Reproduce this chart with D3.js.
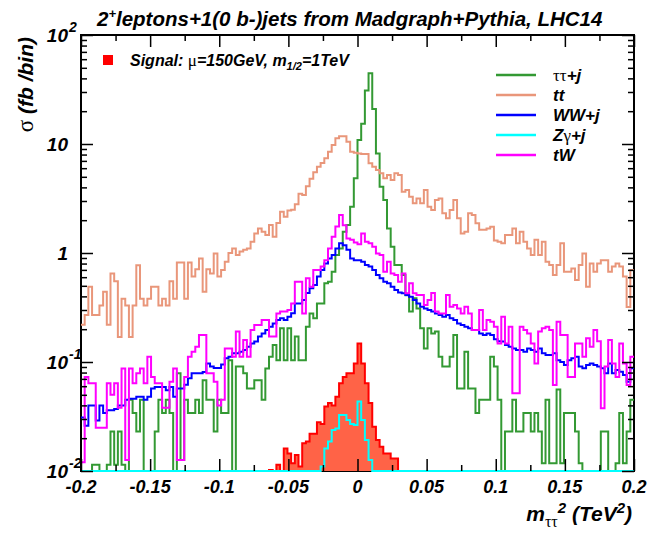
<!DOCTYPE html>
<html>
<head>
<meta charset="utf-8">
<script src="https://cdn.jsdelivr.net/npm/d3@7"></script>
<style>
  body { margin: 0; background: #fff; }
  text { font-family: "Liberation Sans", Arial, Helvetica, sans-serif; font-weight: bold; font-style: italic; fill: #000; }
  .greek { font-family: "Liberation Serif", "DejaVu Serif", serif; font-weight: normal; font-style: normal; }
</style>
</head>
<body>
<script>
var width = 667, height = 533;
var plot = { left: 81, right: 634, top: 35, bottom: 471 };

// binning of the histograms
var nBins = 150, xMin = -0.2, xMax = 0.2, yMin = 0.01, yMax = 100;

// tick labels
var xMajorTicks = [-0.2, -0.15, -0.1, -0.05, 0, 0.05, 0.1, 0.15, 0.2];
var xMinorTicks = [-0.175, -0.125, -0.075, -0.025, 0.025, 0.075, 0.125, 0.175];
var xTickLabels = ["-0.2", "-0.15", "-0.1", "-0.05", "0", "0.05", "0.1", "0.15", "0.2"];
var yMajorTicks = [0.01, 0.1, 1, 10, 100];
var yTickBase = ["10", "10", "1", "10", "10"];
var yTickExp = ["-2", "-1", "", "", "2"];

// cross section per bin (fb), 150 bins from -0.2 to 0.2 TeV^2
var tautau = [
  0, 0, 0, 0.0114, 0.0114, 0, 0, 0.0114, 0.023, 0.0114,
  0.023, 0.0114, 0, 0.045, 0.034, 0.023, 0.045, 0, 0, 0,
  0.023, 0.045, 0.034, 0.045, 0.034, 0, 0.079, 0.0126, 0.045, 0.034,
  0.034, 0.045, 0.034, 0.068, 0.045, 0.045, 0.023, 0.045, 0.034, 0.034,
  0.104, 0, 0.091, 0.091, 0.079, 0.057, 0.057, 0.068, 0.068, 0.045,
  0.087, 0.112, 0.143, 0.104, 0.204, 0.104, 0.204, 0.104, 0.171, 0.104,
  0.104, 0.211, 0.279, 0.252, 0.345, 0.345, 0.527, 0.546, 0.674, 0.96,
  1.10, 1.57, 1.81, 2.66, 4.84, 10.9, 15.3, 31, 44.5, 21,
  8.2, 4.06, 3.06, 1.68, 1.14, 0.776, 0.776, 0.628, 0.41, 0.29,
  0.384, 0.31, 0.204, 0.133, 0.204, 0.183, 0.19, 0.112, 0.091, 0.091,
  0.112, 0.177, 0.057, 0.057, 0.124, 0.057, 0.057, 0.034, 0.045, 0.045,
  0.045, 0.112, 0.091, 0.045, 0, 0.023, 0.023, 0.045, 0.023, 0.023,
  0.034, 0.034, 0.023, 0.034, 0.023, 0.0118, 0.045, 0.0118, 0.0118, 0.056,
  0.0118, 0.034, 0.034, 0.034, 0.023, 0.0118, 0, 0, 0, 0,
  0, 0.023, 0.023, 0, 0, 0.0118, 0.034, 0.0118, 0.023, 0.045
];
var ttbar = [
  0.22, 0.27, 0.49, 0.27, 0.27, 0.33, 0.44, 0.22, 0.65, 0.55,
  0.17, 0.38, 0.33, 0.17, 0.33, 0.77, 0.38, 0.33, 0.38, 0.49,
  0.49, 0.33, 0.38, 0.33, 0.55, 0.38, 0.82, 0.82, 0.38, 0.82,
  0.61, 0.71, 0.89, 0.44, 0.71, 0.65, 0.99, 0.61, 0.70, 0.83,
  1.0, 1.10, 0.96, 1.03, 1.07, 1.10, 1.27, 1.51, 1.68, 1.57,
  1.46, 1.81, 1.41, 1.88, 2.39, 2.15, 2.46, 2.5, 2.8, 3.5,
  3.4, 4.1, 4.8, 5.5, 6.2, 6.7, 7.4, 8.5, 9.8, 11.3,
  11.8, 11.8, 10.5, 8.5, 8.3, 8.2, 8.1, 8.1, 6.65, 6.2,
  5.77, 5.38, 4.84, 5.2, 4.67, 5.38, 5.2, 3.65, 3.78, 3.29,
  2.86, 3.17, 2.86, 3.78, 2.66, 2.48, 3.06, 3.17, 2.31, 2.08,
  2.48, 3.06, 2.08, 1.51, 1.57, 2.31, 2.23, 1.87, 1.63, 1.63,
  1.68, 1.74, 1.3, 1.27, 1.23, 1.46, 1.46, 1.68, 1.23, 1.57,
  1.27, 1.10, 0.96, 1.32, 0.96, 1.27, 0.83, 0.776, 0.628, 0.776,
  1.23, 0.674, 0.674, 0.72, 0.565, 0.776, 0.99, 0.49, 0.80, 0.674,
  0.80, 0.86, 0.86, 0.674, 0.75, 0.80, 0.75, 0.61, 0.32, 0.70
];
var wwj = [
  0.031, 0.026, 0.040, 0.040, 0.029, 0.040, 0.034, 0.036, 0.036, 0.037,
  0.040, 0.040, 0.045, 0.046, 0.046, 0.048, 0.048, 0.045, 0.048, 0.057,
  0.059, 0.059, 0.059, 0.055, 0.059, 0.048, 0.057, 0.057, 0.062, 0.071,
  0.079, 0.079, 0.079, 0.081, 0.097, 0.091, 0.088, 0.088, 0.095, 0.108,
  0.112, 0.12, 0.12, 0.124, 0.129, 0.138, 0.148, 0.154, 0.171, 0.183,
  0.197, 0.211, 0.226, 0.243, 0.252, 0.243, 0.26, 0.28, 0.345, 0.345,
  0.37, 0.43, 0.474, 0.51, 0.61, 0.70, 0.80, 0.89, 0.96, 1.10,
  1.23, 1.18, 1.07, 0.89, 0.86, 0.86, 0.83, 0.776, 0.75, 0.70,
  0.628, 0.586, 0.546, 0.527, 0.49, 0.458, 0.433, 0.427, 0.412, 0.397,
  0.37, 0.345, 0.322, 0.31, 0.30, 0.29, 0.279, 0.27, 0.26, 0.27,
  0.252, 0.243, 0.226, 0.218, 0.211, 0.204, 0.197, 0.197, 0.183, 0.177,
  0.183, 0.177, 0.162, 0.155, 0.154, 0.143, 0.138, 0.133, 0.129, 0.129,
  0.124, 0.133, 0.129, 0.124, 0.133, 0.12, 0.116, 0.116, 0.12, 0.104,
  0.10, 0.094, 0.104, 0.108, 0.112, 0.091, 0.0875, 0.094, 0.097, 0.094,
  0.091, 0.0875, 0.079, 0.097, 0.079, 0.0845, 0.0815, 0.076, 0.066, 0.0875
];
var zgj = [
  0, 0, 0, 0, 0, 0, 0, 0, 0, 0,
  0, 0, 0, 0, 0, 0, 0, 0, 0, 0,
  0, 0, 0, 0, 0, 0, 0, 0, 0, 0,
  0, 0, 0, 0, 0, 0, 0, 0, 0, 0,
  0, 0, 0, 0, 0, 0, 0, 0, 0, 0,
  0, 0, 0, 0, 0, 0, 0, 0, 0, 0,
  0, 0, 0, 0, 0, 0.011, 0.0161, 0.0186, 0.0238, 0.0246,
  0.0327, 0.0327, 0.0294, 0.027, 0.0264, 0.0433, 0.0294, 0.0192, 0.0126, 0,
  0, 0, 0, 0, 0, 0, 0, 0, 0, 0,
  0, 0, 0, 0, 0, 0, 0, 0, 0, 0,
  0, 0, 0, 0, 0, 0, 0, 0, 0, 0,
  0, 0, 0, 0, 0, 0, 0, 0, 0, 0,
  0, 0, 0, 0, 0, 0, 0, 0, 0, 0,
  0, 0, 0, 0, 0, 0, 0, 0, 0, 0,
  0, 0, 0, 0, 0, 0, 0, 0, 0, 0
];
var tw = [
  0.012, 0.073, 0.064, 0.064, 0.025, 0.025, 0.025, 0.064, 0.050, 0.064,
  0.038, 0.087, 0.0126, 0.087, 0.064, 0.079, 0.087, 0.064, 0.112, 0.073,
  0.064, 0.064, 0.038, 0.038, 0.066, 0.087, 0.0126, 0.0126, 0.073, 0.112,
  0.124, 0.138, 0.177, 0.177, 0.079, 0.079, 0.066, 0.04, 0.045, 0.133,
  0.133, 0.112, 0.19, 0.112, 0.159, 0.112, 0.197, 0.218, 0.218, 0.243,
  0.243, 0.171, 0.171, 0.279, 0.29, 0.29, 0.30, 0.345, 0.546, 0.546,
  0.279, 0.586, 0.49, 0.70, 0.70, 0.75, 0.86, 1.1, 1.41, 1.75,
  2.23, 1.8, 1.36, 1.32, 1.25, 1.2, 1.51, 1.27, 1.23, 1.14,
  0.99, 0.96, 0.674, 0.83, 0.65, 0.628, 0.546, 0.65, 0.427, 0.527,
  0.427, 0.412, 0.412, 0.333, 0.37, 0.43, 0.29, 0.279, 0.279, 0.412,
  0.322, 0.333, 0.31, 0.279, 0.322, 0.279, 0.197, 0.197, 0.30, 0.197,
  0.243, 0.234, 0.211, 0.148, 0.26, 0.148, 0.211, 0.0516, 0.0516, 0.211,
  0.197, 0.183, 0.148, 0.097, 0.19, 0.204, 0.211, 0.197, 0.0615, 0.234,
  0.177, 0.177, 0.073, 0.073, 0.148, 0.148, 0.112, 0.165, 0.138, 0.197,
  0.155, 0.0376, 0.091, 0.159, 0.097, 0.073, 0.148, 0.097, 0.0615, 0.112
];
var signal = [
  0, 0, 0, 0, 0, 0, 0, 0, 0, 0,
  0, 0, 0, 0, 0, 0, 0, 0, 0, 0,
  0, 0, 0, 0, 0, 0, 0, 0, 0, 0,
  0, 0, 0, 0, 0, 0, 0, 0, 0, 0,
  0, 0, 0, 0, 0, 0, 0, 0, 0, 0,
  0, 0.0102, 0, 0.0114, 0, 0.0161, 0.0145, 0.0118, 0.014, 0.011,
  0.018, 0.0186, 0.022, 0.022, 0.028, 0.027, 0.039, 0.042, 0.040, 0.048,
  0.064, 0.073, 0.079, 0.079, 0.097, 0.148, 0.097, 0.064, 0.042, 0.0255,
  0.0192, 0.0167, 0.0145, 0.0145, 0.013, 0.013, 0, 0, 0, 0,
  0, 0, 0, 0, 0, 0, 0, 0, 0, 0,
  0, 0, 0, 0, 0, 0, 0, 0, 0, 0,
  0, 0, 0, 0, 0, 0, 0, 0, 0, 0,
  0, 0, 0, 0, 0, 0, 0, 0, 0, 0,
  0, 0, 0, 0, 0, 0, 0, 0, 0, 0,
  0, 0, 0, 0, 0, 0, 0, 0, 0, 0
];

var backgrounds = [
  { values: tautau, color: "#339933", label: [["ττ", true], ["+j", false]] },
  { values: ttbar, color: "#e9967a", label: [["tt", false]] },
  { values: wwj, color: "#0000ff", label: [["WW+j", false]] },
  { values: zgj, color: "#00ffff", label: [["Z", false], ["γ", true], ["+j", false]] },
  { values: tw, color: "#ff00ff", label: [["tW", false]] }
];

var svg = d3.select("body")
    .append("svg")
    .attr("width", width)
    .attr("height", height);

var x = d3.scaleLinear().domain([xMin, xMax]).range([plot.left, plot.right]);
var y = d3.scaleLog().domain([yMin, yMax]).range([plot.bottom, plot.top]);

var edges = d3.range(nBins + 1).map(function (i) { return xMin + (xMax - xMin) * i / nBins; });

// step points of a histogram, values under the axis minimum sit on the bottom
function binPoints(values, offset) {
    var pts = [];
    values.forEach(function (v, i) {
        var vv = Math.max(v, yMin);
        pts.push([edges[i + offset], vv], [edges[i + offset + 1], vv]);
    });
    return pts;
}

var line = d3.line()
    .x(function (d) { return x(d[0]); })
    .y(function (d) { return y(d[1]); });

// frame
svg.append("rect")
    .attr("x", plot.left).attr("y", plot.top)
    .attr("width", plot.right - plot.left).attr("height", plot.bottom - plot.top)
    .attr("fill", "none").attr("stroke", "#000").attr("stroke-width", 2);

// signal, filled
var nonZero = signal.map(function (v, i) { return v > 0 ? i : -1; }).filter(function (i) { return i >= 0; });
var s0 = nonZero[0], s1 = nonZero[nonZero.length - 1];
var sigPts = [[edges[s0], yMin]].concat(binPoints(signal.slice(s0, s1 + 1), s0), [[edges[s1 + 1], yMin]]);

svg.append("path")
    .datum(sigPts)
    .attr("d", d3.area()
        .x(function (d) { return x(d[0]); })
        .y0(y(yMin))
        .y1(function (d) { return y(d[1]); }))
    .attr("fill", "#ff6347");

svg.append("path")
    .datum(sigPts)
    .attr("d", line)
    .attr("fill", "none")
    .attr("stroke", "#ff0000")
    .attr("stroke-width", 2);

// backgrounds
backgrounds.forEach(function (b) {
    svg.append("path")
        .datum(binPoints(b.values, 0))
        .attr("d", line)
        .attr("fill", "none")
        .attr("stroke", b.color)
        .attr("stroke-width", 2);
});

// ticks on all four sides, pointing inwards
var yMinorTicks = [];
yMajorTicks.slice(0, -1).forEach(function (t) {
    for (var k = 2; k <= 9; k++) yMinorTicks.push(t * k);
});

function tickAxis(axis, values, size, tx, ty) {
    svg.append("g")
        .attr("transform", "translate(" + tx + "," + ty + ")")
        .call(axis.tickValues(values).tickSize(size).tickFormat(""))
        .call(function (g) {
            g.select(".domain").remove();
            g.selectAll(".tick line").attr("stroke-width", 1.5);
        });
}
tickAxis(d3.axisBottom(x), xMajorTicks, -12, 0, plot.bottom);
tickAxis(d3.axisBottom(x), xMinorTicks, -6, 0, plot.bottom);
tickAxis(d3.axisTop(x), xMajorTicks, -12, 0, plot.top);
tickAxis(d3.axisTop(x), xMinorTicks, -6, 0, plot.top);
tickAxis(d3.axisLeft(y), yMajorTicks, -12, plot.left, 0);
tickAxis(d3.axisLeft(y), yMinorTicks, -6, plot.left, 0);
tickAxis(d3.axisRight(y), yMajorTicks, -12, plot.right, 0);
tickAxis(d3.axisRight(y), yMinorTicks, -6, plot.right, 0);

// x tick labels
svg.append("g").selectAll("text")
    .data(xMajorTicks)
    .enter()
    .append("text")
    .attr("x", function (d) { return x(d); })
    .attr("y", 493)
    .attr("text-anchor", "middle")
    .style("font-size", "18px")
    .text(function (d, i) { return xTickLabels[i]; });

// y tick labels, 10 with exponent
yMajorTicks.forEach(function (t, i) {
    var yy = y(t);
    svg.append("text")
        .attr("x", 68).attr("y", yy + 7)
        .attr("text-anchor", "end")
        .style("font-size", "19px")
        .text(yTickBase[i]);
    if (yTickExp[i]) {
        svg.append("text")
            .attr("x", 69).attr("y", yy - 3)
            .style("font-size", "14px")
            .text(yTickExp[i]);
    }
});

// title
var title = svg.append("text")
    .attr("x", 97).attr("y", 26)
    .style("font-size", "20.5px");
title.append("tspan").text("2");
title.append("tspan").attr("dy", -8).style("font-size", "13px").text("+");
title.append("tspan").attr("dy", 8).text("leptons+1(0 b-)jets from Madgraph+Pythia, LHC14");

// y axis title
var yTitle = svg.append("text")
    .attr("transform", "translate(33," + (plot.top + 2) + ") rotate(-90)")
    .attr("text-anchor", "end")
    .style("font-size", "21px");
yTitle.append("tspan").attr("class", "greek").style("font-size", "23px").text("σ");
yTitle.append("tspan").text(" (fb /bin)");

// x axis title
var xTitle = svg.append("text")
    .attr("x", 632).attr("y", 521)
    .attr("text-anchor", "end")
    .style("font-size", "21px");
xTitle.append("tspan").text("m");
xTitle.append("tspan").attr("class", "greek").attr("dy", 6).style("font-size", "16px").text("ττ");
xTitle.append("tspan").attr("dy", -14).style("font-size", "15px").text("2");
xTitle.append("tspan").attr("dy", 8).text(" (TeV");
xTitle.append("tspan").attr("dy", -8).style("font-size", "15px").text("2");
xTitle.append("tspan").attr("dy", 8).text(")");

// signal legend
svg.append("rect")
    .attr("x", 103).attr("y", 55)
    .attr("width", 10).attr("height", 10)
    .attr("fill", "#ff0000");
var sigText = svg.append("text")
    .attr("x", 130).attr("y", 66)
    .style("font-size", "16px");
sigText.append("tspan").text("Signal: ");
sigText.append("tspan").attr("class", "greek").style("font-size", "17px").text("μ");
sigText.append("tspan").text("=150GeV, m");
sigText.append("tspan").attr("dy", 4).style("font-size", "11px").text("1/2");
sigText.append("tspan").attr("dy", -4).text("=1TeV");

// background legend
backgrounds.forEach(function (b, i) {
    var ly = 75 + 20 * i;
    svg.append("line")
        .attr("x1", 496).attr("x2", 536)
        .attr("y1", ly).attr("y2", ly)
        .attr("stroke", b.color)
        .attr("stroke-width", 2.5);
    var t = svg.append("text")
        .attr("x", 553).attr("y", ly + 6)
        .style("font-size", "17px");
    b.label.forEach(function (part) {
        t.append("tspan").attr("class", part[1] ? "greek" : null).text(part[0]);
    });
});
</script>
</body>
</html>
